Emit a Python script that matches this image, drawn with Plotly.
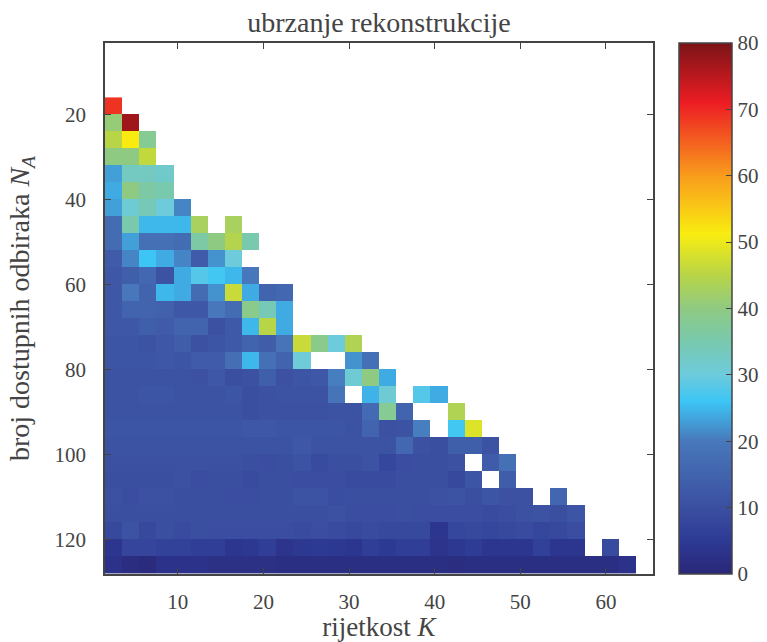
import math
import plotly.graph_objects as go

n = math.nan
k_values = [2.5 + 2 * i for i in range(32)]
na_values = [18 + 4 * i for i in range(28)]

r18 = [69]
r22 = [41, 77]
r26 = [45, 51.5, 38]
r30 = [40, 40, 46]
r34 = [23, 33, 33, 32]
r38 = [24, 40, 36, 35]
r42 = [23, 31, 34, 30, 21]
r46 = [17, 35, 25, 25, 25, 43, n, 43]
r50 = [17, 23, 18, 18, 17, 36, 40, 44.5, 35]
r54 = [13, 21, 26, 24, 21, 13, 22, 30]
r58 = [12, 14, 16, 11, 24, 28, 26.5, 25, 20]
r62 = [12, 20, 15, 25, 24, 17, 22, 46.5, 24, 15, 16]
r66 = [12, 15, 15, 14.5, 12, 12, 20, 17, 39, 34, 24]
r70 = [12, 12, 14, 13, 15, 15, 10.5, 12.5, 25, 45, 24]
r74 = [11.5, 11.5, 11, 12, 13.5, 10.5, 11.5, 12.5, 15, 13.5, 19, 46.5, 39, 30, 44]
r78 = [11.5, 11.5, 11.5, 12, 11.5, 13, 13, 17.5, 25, 18, 15, 30.5, n, n, 22, 18]
r82 = [11, 11, 11, 11, 11, 10.5, 12, 10, 10.5, 14, 10.5, 11.5, 12, 20.5, 31, 40, 24]
r86 = [11, 11, 11.5, 11.5, 11, 11, 11, 11.5, 10, 10.5, 11, 11, 11, 19, n, 24.5, 31, n, 28, 24]
r90 = [11, 11, 11, 11, 11, 11, 11, 11, 10, 10.5, 10.5, 10.5, 10.5, 11, 11, 16.5, 38, 15, n, n, 44]
r94 = [11.5, 11.5, 11.5, 11.5, 11.5, 11.5, 11.5, 11.5, 12, 12, 11.5, 11.5, 11.5, 11.5, 11, 15, 10.5, 11, 20.5, n, 26.5, 48.5]
r98 = [11, 11, 11, 11, 11, 11, 11, 11, 11, 11, 11, 12, 11, 11, 11, 11, 11, 16, 10.5, 10, 14, 14, 11]
r102 = [10.5, 10.5, 10.5, 10.5, 10.5, 10.5, 10.5, 10.5, 10, 9.5, 10, 11, 9, 10, 10, 11, 8, 9.5, 10, 10, 10.5, n, 13, 18]
r106 = [10, 10, 10, 10, 10.5, 9.5, 10, 10, 9, 10, 10, 9.5, 9.5, 9.5, 9, 9, 9, 10, 10, 10, 8.5, 11.5, n, 13.5]
r110 = [10.5, 9.5, 10.5, 10.5, 10, 10, 10, 9.5, 9.5, 10, 10, 11, 11, 9.5, 10, 10, 10, 10, 10, 10.5, 11, 10, 11.5, 10.5, 10.5, n, 15.5]
r114 = [10, 10, 10, 10, 10, 10, 10, 10, 10, 10, 10, 10, 10, 10.5, 9.5, 9.5, 9.5, 10, 9.5, 9.5, 9.5, 9.5, 9, 9.5, 10.5, 11, 10, 11.5]
r118 = [8.5, 11, 8.5, 10, 9, 10, 9.5, 9.5, 9.5, 9.5, 9.5, 9, 9.5, 9, 8.5, 9, 8.5, 8.5, 8.5, 4, 8, 8.5, 8, 8.5, 9, 8, 8.5, 9.5]
r122 = [4, 7.5, 7.5, 7, 7, 6, 6, 4, 4.5, 6, 3.5, 4.5, 5, 4.5, 4, 6, 5, 6, 6, 3.5, 4.5, 5.5, 4, 4, 4, 6.5, 4, 4, n, 9]
r126 = [3, 1.5, 1, 3, 3, 3, 2.5, 2.5, 2.5, 2.5, 2, 2, 2, 2, 2, 2, 2, 2, 2, 2, 1.5, 2, 2, 2, 2, 2, 2, 2, 2, 2, 3]

rows = [r18, r22, r26, r30, r34, r38, r42, r46, r50, r54, r58, r62, r66, r70,
        r74, r78, r82, r86, r90, r94, r98, r102, r106, r110, r114, r118, r122, r126]
speedup = [r + [n] * (32 - len(r)) for r in rows]

colorscale = [
    [0.0, "#2a2778"], [0.0625, "#2d3a94"], [0.125, "#3b4fa1"], [0.25, "#4878bb"],
    [0.325, "#3cc5f5"], [0.375, "#6dcbdc"], [0.4375, "#78c9ae"], [0.5, "#8fca82"],
    [0.5625, "#b8d547"], [0.64, "#f9ed10"], [0.75, "#f99c1c"], [0.8875, "#ed1c24"],
    [1.0, "#7a1416"],
]

FONT = "Liberation Serif"
INK = "#444444"

fig = go.Figure(go.Heatmap(
    x=k_values, y=na_values, z=speedup, zmin=0, zmax=80,
    colorscale=colorscale, hoverongaps=False,
    colorbar=dict(
        x=(679 - 105) / 548, xanchor="left", xpad=0, y=0.5, yanchor="middle", ypad=0,
        len=1, lenmode="fraction", thickness=53, thicknessmode="pixels",
        outlinecolor=INK, outlinewidth=1.5,
        tickvals=[0, 10, 20, 30, 40, 50, 60, 70, 80],
        tickprefix="\u00a0",
        ticks="inside", ticklen=6, tickwidth=1.2, tickcolor=INK,
        tickfont=dict(family=FONT, size=21, color=INK),
    ),
))

axis_common = dict(
    ticks="inside", ticklen=6, tickwidth=1.2, tickcolor=INK,
    showline=True, linecolor=INK, linewidth=1.5, mirror="allticks",
    showgrid=False, zeroline=False,
    tickfont=dict(family=FONT, size=21, color=INK),
)

fig.update_layout(
    width=767, height=642,
    margin=dict(l=105, r=114, t=43, b=68, autoexpand=False),
    autosize=False,
    paper_bgcolor="white", plot_bgcolor="white",
    font=dict(family=FONT, color=INK),
    title=dict(text="ubrzanje rekonstrukcije", x=379 / 767, xanchor="center",
               y=1 - 22 / 642, yanchor="middle",
               font=dict(family=FONT, size=28, color=INK)),
    xaxis=dict(range=[1.5, 65.5], tickvals=[10, 20, 30, 40, 50, 60],
               ticklabelstandoff=8,
               title=dict(text="rijetkost <i>K</i>", standoff=13,
                          font=dict(family=FONT, size=27, color=INK)),
               **axis_common),
    yaxis=dict(range=[128.1, 3.2], tickvals=[20, 40, 60, 80, 100, 120],
               ticklabelstandoff=13,
               title=dict(text="broj dostupnih odbiraka <i>N<sub>A</sub></i>", standoff=17,
                          font=dict(family=FONT, size=28, color=INK)),
               **axis_common),
)

fig.write_html("out.html", config={"displayModeBar": False},
               post_script="document.body.style.margin='0';")
